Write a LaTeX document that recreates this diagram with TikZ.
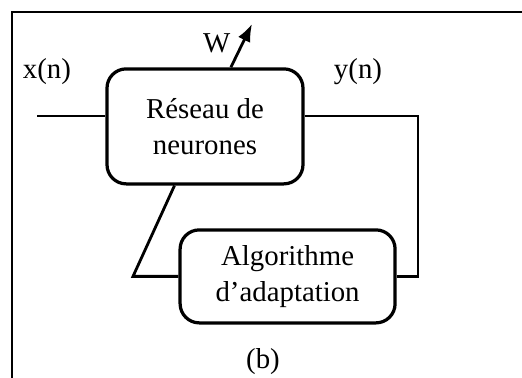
\documentclass[tikz,border=0pt]{standalone}
\usepackage{fontspec}
\setmainfont{Liberation Serif}
\usetikzlibrary{arrows.meta, positioning, calc}

\begin{document}
\begin{tikzpicture}[
    font=\fontsize{20.5}{25.6}\selectfont,
    block/.style={
        draw=black,
        rectangle,
        rounded corners=0.48cm,
        align=center,
        inner sep=0pt,
        line width=2.3pt
    },
    arrow/.style={
        -{Latex[length=4.4mm,width=3.4mm]},
        line width=2pt,
        draw=black
    },
    bareline/.style={
        line width=2pt,
        draw=black
    },
    frameline/.style={
        line width=1.5pt,
        draw=black
    },
    label/.style={
        inner sep=0pt
    }
]

\useasboundingbox (0,0) rectangle (13.05,9.45);

% ============================================================
% Frame (top and left only)
% ============================================================

\coordinate (fbl) at (0.3,0);
\coordinate (ftl) at (0.3,9.15);
\coordinate (ftr) at (13.05,9.15);
\draw[frameline] (fbl) -- (ftl) -- (ftr);

% ============================================================
% Blocks
% ============================================================

\node[block, minimum width=4.9cm, minimum height=2.875cm] (reseau) at (5.125,6.29)
    {R\'eseau de\\neurones};
\node[block, minimum width=5.375cm, minimum height=2.325cm] (algo) at (7.19,2.54)
    {Algorithme\\d'adaptation};

% ============================================================
% Signals
% ============================================================

\coordinate (xin)  at (0.925,6.55);
\coordinate (yout) at (10.45,6.55);
\coordinate (ybot) at (10.45,2.54);
\coordinate (fb)   at (3.325,2.54);
\coordinate (fbup) at ($(reseau.south west)!0.347!(reseau.south east)$);
\coordinate (wbot) at ($(reseau.north west)!0.63!(reseau.north east)$);
\coordinate (wtop) at (6.3,8.85);

\draw[bareline] (xin) -- (xin -| reseau.west);
\draw[bareline] (yout -| reseau.east) -- (yout) -- (ybot) -- (algo.east);
\draw[bareline] (algo.west) -- (fb) -- (fbup);
\draw[arrow]    (wbot) -- (wtop);

\node[label] (xlab) at (1.175,7.65) {x(n)};
\node[label] (ylab) at (8.95,7.65)  {y(n)};
\node[label] (wlab) at (5.42,8.37)  {W};
\node[label] (blab) at (6.575,0.4) {(b)};

\end{tikzpicture}
\end{document}
